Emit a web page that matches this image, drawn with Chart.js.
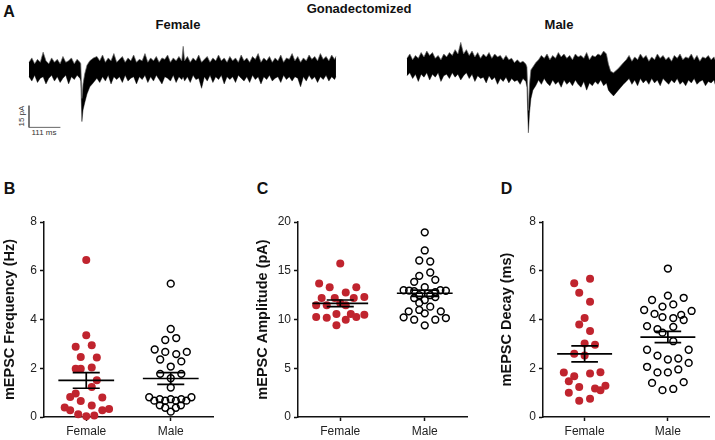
<!DOCTYPE html>
<html>
<head>
<meta charset="utf-8">
<script src="https://cdn.jsdelivr.net/npm/chart.js@4.4.1/dist/chart.umd.min.js"></script>
<style>
  body { margin: 0; background: #fff; width: 715px; height: 440px; position: relative; overflow: hidden;
         font-family: "Liberation Sans", Arial, sans-serif; color: #111; }
  .box { position: absolute; }
  .lbl { position: absolute; white-space: nowrap; line-height: 1; transform: translate(-50%, -50%); }
  .b { font-weight: bold; }
</style>
</head>
<body>
<div class="lbl b" style="left:9px;top:12px;font-size:16px">A</div>
<div class="lbl b" style="left:359px;top:8px;font-size:13px">Gonadectomized</div>
<div class="lbl b" style="left:178px;top:24px;font-size:13px">Female</div>
<div class="lbl b" style="left:559px;top:24px;font-size:13px">Male</div>
<div class="lbl" style="left:21.5px;top:116px;font-size:8px;color:#333;transform:translate(-50%,-50%) rotate(-90deg)">15 pA</div>
<div class="lbl" style="left:44px;top:133px;font-size:8px;color:#333">111 ms</div>
<div class="lbl b" style="left:9.5px;top:189px;font-size:16px">B</div>
<div class="lbl b" style="left:262.5px;top:189px;font-size:16px">C</div>
<div class="lbl b" style="left:506.5px;top:189px;font-size:16px">D</div>

<div class="box" style="left:20px;top:38px;width:322px;height:100px"><canvas id="traceF"></canvas></div>
<div class="box" style="left:400px;top:38px;width:315px;height:100px"><canvas id="traceM"></canvas></div>
<div class="box" style="left:0px;top:200px;width:225px;height:240px"><canvas id="freq"></canvas></div>
<div class="box" style="left:253px;top:200px;width:226px;height:240px"><canvas id="amp"></canvas></div>
<div class="box" style="left:497px;top:200px;width:218px;height:240px"><canvas id="decay"></canvas></div>

<script>
const femaleTime = [0,10,20,30,40,50,60,70,80,90,100,110,120,130,140,150,160,170,180,
  183,187,191,197,205,215,228,
  240,250,260,270,280,290,300,310,320,330,340,350,360,370,380,390,400,410,420,430,440,450,460,470,480,490,500,510,520,530,540,
  545,
  550,560,570,580,590,600,610,620,630,640,650,660,670,680,690,700,710,720,730,740,750,760,770,780,790,800,810,820,830,840,
  850,860,870,880,890,900,910,920,930,940,950,960,970,980,990,1000,1010,1020,1030,1040,1050,1060,1070,1080,1085];
const femaleUpper = [5,8,4,7,5,12,6,4,8,5,7,4,9,5,6,8,4,7,5,
  4,-20,-10,-3,3,6,8,
  9,6,10,5,8,6,11,5,7,9,5,8,6,10,5,7,6,11,5,8,6,9,5,8,7,10,5,8,6,9,6,
  16,
  6,9,5,8,6,10,5,7,9,5,8,6,10,6,8,5,9,6,8,5,10,6,8,5,9,7,11,5,8,6,
  9,5,8,6,10,5,8,7,11,6,9,5,8,6,10,7,9,6,11,7,9,6,10,7,9];
const femaleLower = [-5,-8,-4,-9,-6,-5,-10,-6,-4,-8,-5,-9,-6,-4,-10,-5,-7,-4,-6,
  -8,-36,-28,-23,-17,-12,-9,
  -6,-9,-5,-8,-4,-10,-5,-7,-5,-9,-4,-8,-6,-5,-10,-5,-7,-4,-9,-5,-8,-4,-7,-10,-5,-6,-8,-4,-9,-5,-7,
  -5,
  -8,-5,-9,-4,-7,-6,-13,-5,-8,-4,-9,-5,-7,-4,-10,-5,-7,-5,-9,-4,-6,-8,-5,-9,-4,-7,-5,-10,-5,-7,
  -4,-8,-6,-5,-9,-4,-7,-5,-8,-5,-6,-12,-5,-8,-4,-7,-5,-9,-5,-7,-4,-8,-5,-7,-5];

const maleTime = [0,10,20,30,40,50,60,70,80,90,100,110,120,130,140,150,160,170,180,190,200,210,220,230,240,250,260,270,280,290,
  300,310,320,330,340,350,360,370,380,390,400,410,420,
  424,429,433,438,445,455,
  465,475,485,495,505,515,525,535,545,555,565,575,585,595,605,615,625,635,645,655,665,675,685,695,705,
  712,720,730,747,765,
  775,785,795,805,815,825,835,845,855,865,875,885,895,905,915,925,935,945,955,965,975,985,995,1005,1015,1025,1035,1045,1055,1065,
  1075,1085,1089];
const maleUpper = [6,9,5,8,6,10,7,11,8,10,6,8,5,9,7,10,8,12,9,17,9,12,8,11,7,10,6,9,7,10,
  6,9,7,8,5,8,5,6,3,5,3,4,2,
  0,-30,-12,-2,0,3,
  5,8,6,9,5,8,6,10,7,9,6,8,5,9,7,8,6,10,5,8,7,9,8,11,9,
  2,-3,-4,-1,3,
  5,8,4,7,5,9,6,8,4,7,5,9,6,8,5,7,4,8,6,9,5,7,6,9,5,8,4,7,6,8,
  5,7,5];
const maleLower = [-6,-4,-8,-5,-10,-5,-7,-4,-9,-5,-7,-4,-10,-6,-5,-8,-4,-7,-5,-9,-6,-4,-8,-5,-10,-6,-8,-7,-11,-6,
  -9,-7,-12,-8,-10,-7,-11,-8,-10,-9,-12,-8,-10,
  -14,-45.5,-32,-22,-16,-13,
  -9,-12,-8,-11,-13,-9,-12,-10,-14,-9,-12,-10,-13,-9,-12,-14,-10,-16,-11,-13,-10,-12,-9,-13,-11,
  -16,-18,-20,-16,-12,
  -10,-8,-12,-9,-13,-8,-11,-9,-12,-8,-11,-9,-13,-8,-10,-12,-9,-11,-8,-12,-10,-13,-9,-11,-8,-12,-10,-9,-13,-10,
  -11,-9,-12];

const scaleBarCurrent = 15;   // pA
const scaleBarTime = 111;     // ms

// B-D: one value per cell, plus its sideways spread in the swarm
const groups = ['Female', 'Male'];

const freqFemale       = [6.44,3.35,2.88,2.94,2.46,2.44,1.98,1.98,2.03,1.51,1.23,0.96,0.82,0.80,0.66,0.47,0.39,0.28,0.28,0.33,0.11,0.03,0.06];
const freqFemaleSpread = [0,0,-0.25,0.13,-0.13,0.25,-0.25,-0.13,0.13,0.25,0.13,-0.25,-0.38,0.38,-0.13,0.13,-0.51,-0.38,0.38,0.54,-0.19,0,0.19];
const freqMale         = [5.47,3.61,3.16,3.24,2.77,2.67,2.58,2.67,2.36,2.28,2.07,1.77,1.77,1.59,1.21,0.81,0.67,0.73,0.67,0.73,0.67,0.73,0.67,0.81,0.48,0.38,0.38,0.48,0.22];
const freqMaleSpread   = [0,0,-0.13,0.13,-0.38,-0.13,0.13,0.38,-0.25,0.25,0,-0.25,0.25,0,0,-0.51,-0.39,-0.26,-0.13,0,0.12,0.25,0.37,0.49,-0.26,-0.13,0.12,0.24,0];
const freqMean = [1.50, 1.58];
const freqSem  = [0.32, 0.24];

const ampFemale       = [15.75,13.69,13.31,13.31,12.76,12.21,12.21,12.21,12.32,11.46,11.46,11.46,11.7,10.26,10.19,10.57,10.57,9.98,10.26,10.5,9.4];
const ampFemaleSpread = [0,-0.5,-0.25,0.38,0.13,-0.44,-0.13,0.32,0.57,-0.57,-0.32,0.13,0,-0.57,-0.32,-0.09,0.25,0.13,0.38,0.57,-0.09];
const ampMale         = [18.94,17.08,16.05,15.95,14.82,14.48,14.07,13.86,13.31,13.0,12.97,12.9,13.0,12.95,12.8,12.49,12.49,12.0,12.2,12.3,11.32,11.7,10.84,10.98,10.84,10.22,9.98,10.63,9.98,10.15,9.4];
const ampMaleSpread   = [0,0,-0.13,0.13,0.13,-0.13,0.25,-0.25,0,-0.5,-0.37,-0.25,0.37,0.5,0.25,-0.13,0.13,0,-0.25,0.25,0.13,-0.13,-0.38,-0.13,0.38,-0.5,-0.25,0,0.25,0.5,0];
const ampMean = [11.66, 12.69];
const ampSem  = [0.34, 0.32];

const decayFemale       = [5.67,5.49,5.1,4.73,4.06,3.8,3.53,3.02,2.96,2.59,2.52,1.83,1.78,1.84,1.67,1.47,1.23,1.17,1.1,1.28,0.99,0.67,0.75];
const decayFemaleSpread = [0.13,-0.25,-0.13,0.13,0,-0.13,0.13,0,0.25,-0.25,0,-0.5,0.13,0.38,-0.25,-0.38,-0.13,0.25,0.38,0.5,-0.38,-0.13,0.13];
const decayMale         = [6.09,4.98,4.8,4.89,4.53,4.62,4.39,4.35,4.23,4.1,4.06,4.19,3.98,3.73,3.6,3.7,3.46,3.11,2.76,2.76,2.52,2.36,2.4,2.22,2.06,1.83,1.83,1.95,1.4,1.43,1.1,1.15];
const decayMaleSpread   = [0,0,-0.38,0.38,-0.13,0.13,-0.57,0.57,-0.32,-0.13,0.13,0.32,0.38,-0.5,-0.25,0.13,-0.13,0.13,-0.5,0.5,-0.25,0,0.25,0.5,-0.5,-0.25,0,0.25,-0.38,0.38,-0.13,0.13];
const decayMean = [2.59, 3.28];
const decaySem  = [0.33, 0.23];

Chart.defaults.font.family = '"Liberation Sans", Arial, sans-serif';
Chart.defaults.color = '#111';
Chart.defaults.animation = false;

function traceChart(id, time, upper, lower, xr, yr, scaleBar) {
  const datasets = [
    { data: time.map((t, i) => ({ x: t, y: upper[i] })), fill: '+1', backgroundColor: '#000',
      borderColor: '#666', borderWidth: 0.7, pointRadius: 0, tension: 0 },
    { data: time.map((t, i) => ({ x: t, y: lower[i] })), fill: false,
      borderColor: '#666', borderWidth: 0.7, pointRadius: 0, tension: 0 }
  ];
  if (scaleBar) {
    const base = -40;
    datasets.push({ data: [{ x: 0, y: base + scaleBarCurrent }, { x: 0, y: base }, { x: scaleBarTime, y: base }],
      fill: false, borderColor: '#666', borderWidth: 1, pointRadius: 0, tension: 0 });
  }
  new Chart(document.getElementById(id), {
    type: 'line',
    data: { datasets },
    options: {
      responsive: true, maintainAspectRatio: false,
      layout: { padding: 0 },
      plugins: { legend: { display: false }, tooltip: { enabled: false } },
      scales: {
        x: { type: 'linear', display: false, min: xr[0], max: xr[1] },
        y: { display: false, min: yr[0], max: yr[1] }
      }
    }
  });
}

// 1 px = 1/0.2829 ms, 1 pA = 1.447 px
traceChart('traceF', femaleTime, femaleUpper, femaleLower, [-31.8, 1106.4], [-47.35, 21.77], true);
traceChart('traceM', maleTime, maleUpper, maleLower, [-24.7, 1088.7], [-49.08, 20.05], false);

function dotChart(id, title, fVals, fSpread, mVals, mSpread, mean, sem, yMax, step, yWidth, rightPad) {
  const centers = [1, 3];
  const bars = [];
  centers.forEach((c, g) => {
    const m = mean[g], hi = m + sem[g], lo = m - sem[g];
    bars.push({ x: c - 0.66, y: m }, { x: c + 0.66, y: m }, { x: c, y: null },
              { x: c, y: lo }, { x: c, y: hi }, { x: c, y: null },
              { x: c - 0.32, y: hi }, { x: c + 0.32, y: hi }, { x: c, y: null },
              { x: c - 0.32, y: lo }, { x: c + 0.32, y: lo }, { x: c, y: null });
  });
  new Chart(document.getElementById(id), {
    type: 'scatter',
    data: {
      datasets: [
        { data: bars, showLine: true, spanGaps: false, borderColor: '#000', borderWidth: 1.7,
          pointRadius: 0, clip: false },
        { data: fVals.map((v, i) => ({ x: centers[0] + fSpread[i], y: v })),
          pointRadius: 4, backgroundColor: '#c0242e', borderWidth: 0, clip: false },
        { data: mVals.map((v, i) => ({ x: centers[1] + mSpread[i], y: v })),
          pointRadius: 3.4, backgroundColor: 'rgba(0,0,0,0)', borderColor: '#000', borderWidth: 1.5, clip: false }
      ]
    },
    options: {
      responsive: true, maintainAspectRatio: false,
      layout: { padding: { top: 22, right: rightPad, bottom: 0, left: 0 } },
      plugins: { legend: { display: false }, tooltip: { enabled: false } },
      scales: {
        x: {
          type: 'linear', min: 0, max: 4,
          afterBuildTicks: s => { s.ticks = centers.map(v => ({ value: v })); },
          afterFit: s => { s.height = 23; },
          ticks: { callback: (v, i) => groups[i], font: { size: 12 }, color: '#222', padding: 3, autoSkip: false, maxRotation: 0 },
          grid: { drawOnChartArea: false, tickLength: 4, tickColor: '#111', tickWidth: 1.5 },
          border: { color: '#111', width: 1.5 }
        },
        y: {
          min: 0, max: yMax,
          afterFit: s => { s.width = yWidth; },
          ticks: { stepSize: step, font: { size: 12 }, color: '#222', padding: 3 },
          grid: { drawOnChartArea: false, tickLength: 4, tickColor: '#111', tickWidth: 1.5 },
          border: { color: '#111', width: 1.5 },
          title: { display: true, text: title, font: { size: 14.5, weight: 'bold' }, color: '#111', padding: { top: 1, bottom: 0 } }
        }
      }
    }
  });
}

dotChart('freq', 'mEPSC Frequency (Hz)', freqFemale, freqFemaleSpread, freqMale, freqMaleSpread, freqMean, freqSem, 8, 2, 44, 12);
dotChart('amp', 'mEPSC Amplitude (pA)', ampFemale, ampFemaleSpread, ampMale, ampMaleSpread, ampMean, ampSem, 20, 5, 45, 12);
dotChart('decay', 'mEPSC Decay (ms)', decayFemale, decayFemaleSpread, decayMale, decayMaleSpread, decayMean, decaySem, 8, 2, 46, 3);
</script>
</body>
</html>
